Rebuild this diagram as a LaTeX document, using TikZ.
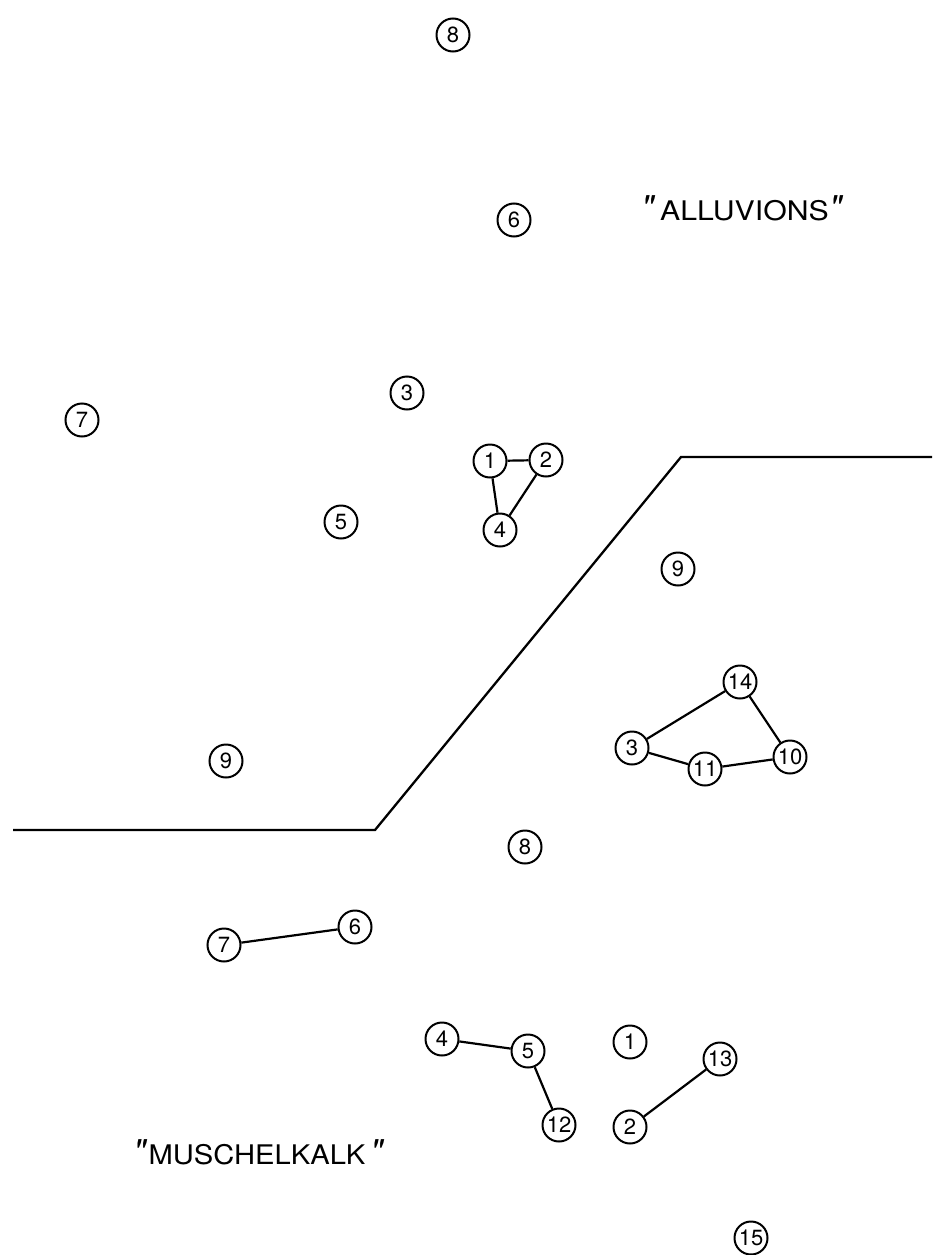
\documentclass[tikz,border=0pt]{standalone}
\usepackage{fontspec}
\setmainfont{TeX Gyre Heros}
\newfontfamily\qfont[Ligatures=TeXOff]{TeX Gyre Heros}
\newcommand\qmark{{\qfont\itshape"}}
\begin{document}
\begin{tikzpicture}[x=1pt,y=-1pt,
  num/.style={circle,draw,line width=2pt,minimum size=33pt,inner sep=0pt,
    font=\fontsize{22}{22}\selectfont},
  link/.style={line width=2.2pt},
  boundary/.style={line width=2.3pt,line join=miter},
  region/.style={inner sep=0pt,font=\fontsize{27}{27}\selectfont}]
\useasboundingbox[fill=white] (0,0) rectangle (932,1255);

% boundary line
\coordinate (bl) at (13,830);
\coordinate (bk) at (375,830);
\coordinate (tk) at (681,457);
\coordinate (tr) at (932,457);
\draw[boundary] (bl) -- (bk) -- (tk) -- (tr);

% region labels
\node[region] (alluv) at (742,208) {\scalebox{1.3}{\qmark}\hspace{6pt}\scalebox{1.12}[1]{ALLUVIONS}\hspace{1pt}\scalebox{1.3}{\qmark}};
\node[region] (musch) at (258,1152) {\scalebox{1.3}{\qmark}\hspace{3pt}\scalebox{1.08}[1]{MUSCHELKALK}\hspace{5pt}\scalebox{1.3}{\qmark}};

% upper numbered points
\node[num] (a8) at (453,35) {8};
\node[num] (a6) at (514,220) {6};
\node[num] (a3) at (407,393) {3};
\node[num] (a7) at (82,420) {7};
\node[num] (a1) at (490,461) {1};
\node[num] (a2) at (546,460) {2};
\node[num] (a4) at (500,530) {4};
\node[num] (a5) at (341,522) {5};
\node[num] (r9) at (678,569) {9};
\node[num] (r14) at (740,682) {14};
\node[num] (r3) at (632,748) {3};
\node[num] (r11) at (705,769) {11};
\node[num] (r10) at (790,757) {10};
\node[num] (l9) at (226,761) {9};

% lower numbered points
\node[num] (b8) at (525,847) {8};
\node[num] (b6) at (355,927) {6};
\node[num] (b7) at (224,945) {7};
\node[num] (b4) at (442,1039) {4};
\node[num] (b5) at (528,1051) {5};
\node[num] (b1) at (630,1042) {1};
\node[num] (b13) at (720,1059) {13};
\node[num] (b12) at (559,1125) {12};
\node[num] (b2) at (630,1127) {2};
\node[num] (b15) at (751,1238) {15};

% connections
\draw[link] (a1) -- (a2);
\draw[link] (a1) -- (a4);
\draw[link] (a2) -- (a4);
\draw[link] (r3) -- (r14);
\draw[link] (r14) -- (r10);
\draw[link] (r3) -- (r11);
\draw[link] (r11) -- (r10);
\draw[link] (b7) -- (b6);
\draw[link] (b4) -- (b5);
\draw[link] (b5) -- (b12);
\draw[link] (b2) -- (b13);
\end{tikzpicture}
\end{document}
